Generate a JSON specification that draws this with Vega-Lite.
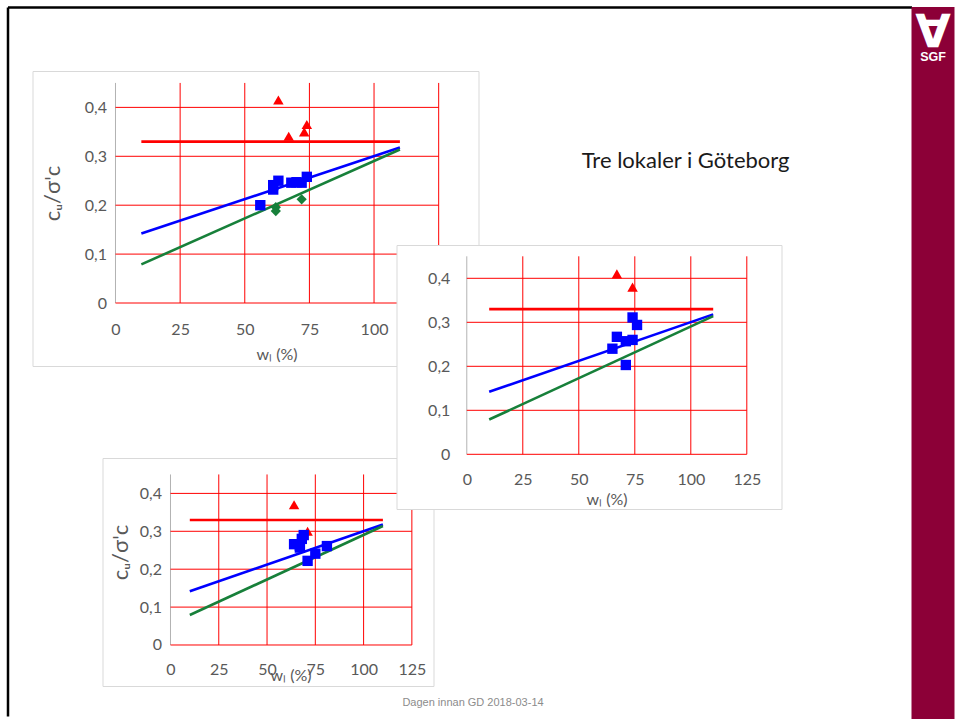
{
"$schema": "https://vega.github.io/schema/vega-lite/v6.json",
"background": "white",
"padding": {"left": 7.5, "top": 7, "right": 0, "bottom": 0},
"config": {"view": {"stroke": null}},
"title": {"text": "Dagen innan GD 2018-03-14", "orient": "bottom", "anchor": "middle", "offset": -22, "dx": -8, "font": "Liberation Sans", "fontSize": 11, "fontWeight": "normal", "color": "#8c8c8c"},
"datasets": {
 "gx": [{"v": 0}, {"v": 25}, {"v": 50}, {"v": 75}, {"v": 100}, {"v": 125}],
 "gy": [{"v": 0}, {"v": 0.1}, {"v": 0.2}, {"v": 0.3}, {"v": 0.4}],
 "lines": [{"s": "A", "x": 10, "y": 0.33}, {"s": "A", "x": 110, "y": 0.33}, {"s": "B", "x": 10, "y": 0.142}, {"s": "B", "x": 110, "y": 0.318}, {"s": "C", "x": 10, "y": 0.079}, {"s": "C", "x": 110, "y": 0.314}],
 "p1": [{"s": "A", "x": 63, "y": 0.415}, {"s": "A", "x": 67, "y": 0.341}, {"s": "A", "x": 73, "y": 0.35}, {"s": "A", "x": 74, "y": 0.365},
        {"s": "B", "x": 56, "y": 0.2}, {"s": "B", "x": 61, "y": 0.232}, {"s": "B", "x": 61, "y": 0.241}, {"s": "B", "x": 63, "y": 0.25}, {"s": "B", "x": 68, "y": 0.246}, {"s": "B", "x": 70, "y": 0.247}, {"s": "B", "x": 72, "y": 0.246}, {"s": "B", "x": 74, "y": 0.258},
        {"s": "C", "x": 62, "y": 0.196}, {"s": "C", "x": 62, "y": 0.188}, {"s": "C", "x": 72, "y": 0.212}],
 "p2": [{"s": "A", "x": 67, "y": 0.41}, {"s": "A", "x": 74, "y": 0.38},
        {"s": "B", "x": 65, "y": 0.24}, {"s": "B", "x": 67, "y": 0.267}, {"s": "B", "x": 71, "y": 0.257}, {"s": "B", "x": 74, "y": 0.26}, {"s": "B", "x": 74, "y": 0.311}, {"s": "B", "x": 76, "y": 0.294}, {"s": "B", "x": 71, "y": 0.203}],
 "p3": [{"s": "A", "x": 64, "y": 0.37}, {"s": "A", "x": 71, "y": 0.3},
        {"s": "B", "x": 64, "y": 0.266}, {"s": "B", "x": 67, "y": 0.262}, {"s": "B", "x": 69, "y": 0.29}, {"s": "B", "x": 68, "y": 0.28}, {"s": "B", "x": 71, "y": 0.222}, {"s": "B", "x": 75, "y": 0.241}, {"s": "B", "x": 81, "y": 0.261}, {"s": "B", "x": 67, "y": 0.257}]
},
"bounds": "flush",
"align": "none",
"spacing": 904,
"hconcat": [
 {
  "bounds": "flush", "align": "none",
  "spacing": 64,
  "vconcat": [
   {
    "bounds": "flush", "align": "none",
    "vconcat": [
     {
      "width": 904, "height": 709,
      "view": {"stroke": null},
      "title": {"text": "Tre lokaler i Göteborg", "orient": "top", "anchor": "end", "frame": "group", "offset": -166, "dx": -122, "font": "Lato", "fontSize": 22, "fontWeight": "normal", "color": "#1a1a1a"},
      "data": {"values": [{"a": 0.5}]},
      "mark": {"type": "point", "opacity": 0},
      "encoding": {
       "x": {"field": "a", "type": "quantitative", "scale": {"domain": [0, 1]}, "axis": {"orient": "top", "domain": true, "domainColor": "#000000", "domainWidth": 2.5, "labels": false, "ticks": false, "grid": false, "title": null}},
       "y": {"field": "a", "type": "quantitative", "scale": {"domain": [0, 1]}, "axis": {"orient": "left", "domain": true, "domainColor": "#000000", "domainWidth": 2.5, "labels": false, "ticks": false, "grid": false, "title": null}}
      }
     }
    ]
   },
   {
    "bounds": "flush", "align": "none",
    "spacing": 24,
    "hconcat": [
     {"width": 1, "height": 1, "view": {"stroke": null}, "data": {"values": []}, "mark": "point"},
     {
      "bounds": "flush", "align": "none",
      "spacing": 364,
      "hconcat": [
       {
        "bounds": "flush", "align": "none",
        "spacing": 92,
        "vconcat": [
         {
          "width": 446, "height": 295,
          "view": {"fill": "white", "stroke": "#d9d9d9", "strokeWidth": 1},
          "encoding": {
           "x": {"type": "quantitative", "scale": {"domain": [-32.1, 140.4], "nice": false, "zero": false},
                 "axis": {"orient": "bottom", "offset": -63, "values": [0, 25, 50, 75, 100, 125], "format": "d", "domain": false, "ticks": false, "grid": false, "labelPadding": 18, "labelFont": "Lato", "labelFontSize": 16, "labelColor": "#595959", "labelFlush": false, "labelOverlap": false, "labelBound": false,
                          "title": "wₗ (%)", "titleX": 244, "titleY": 56, "titleAlign": "center", "titleBaseline": "alphabetic", "titleAngle": 0, "titleFont": "Lato", "titleFontSize": 16, "titleFontWeight": "normal", "titleColor": "#595959"}},
           "y": {"type": "quantitative", "scale": {"domain": [-0.1288, 0.4744], "nice": false, "zero": false},
                 "axis": {"orient": "left", "offset": -83, "values": [0, 0.1, 0.2, 0.3, 0.4], "labelExpr": "datum.value == 0 ? '0' : replace(format(datum.value, '.1f'), '.', ',')", "domain": false, "ticks": false, "grid": false, "labelPadding": 9, "labelFont": "Lato", "labelFontSize": 16, "labelColor": "#595959", "labelFlush": false, "labelOverlap": false, "labelBound": false,
                          "title": "cᵤ/σ'c", "titleX": -56, "titleY": 122, "titleAlign": "center", "titleBaseline": "alphabetic", "titleAngle": -90, "titleFont": "Lato", "titleFontSize": 22, "titleFontWeight": "normal", "titleColor": "#595959"}}
          },
          "layer": [
           {"data": {"name": "gx"}, "mark": {"type": "rule", "strokeWidth": 1},
            "encoding": {"x": {"field": "v"}, "y": {"datum": 0}, "y2": {"datum": 0.45},
             "color": {"condition": {"test": "datum.v === 0", "value": "#b3b3b3"}, "value": "#ff0000"}}},
           {"data": {"name": "gy"}, "mark": {"type": "rule", "color": "#ff0000", "strokeWidth": 1},
            "encoding": {"y": {"field": "v"}, "x": {"datum": 0}, "x2": {"datum": 125}}},
           {"data": {"name": "lines"}, "mark": {"type": "line", "strokeWidth": 2.6},
            "encoding": {"x": {"field": "x"}, "y": {"field": "y"},
             "color": {"field": "s", "type": "nominal", "scale": {"domain": ["A", "B", "C"], "range": ["#ff0000", "#0000ff", "#17803a"]}, "legend": null}}},
           {"data": {"name": "p1"}, "mark": {"type": "point", "filled": true, "opacity": 1},
            "encoding": {"x": {"field": "x"}, "y": {"field": "y"},
             "color": {"field": "s", "type": "nominal", "scale": {"domain": ["A", "B", "C"], "range": ["#ff0000", "#0000ff", "#17803a"]}, "legend": null},
             "shape": {"field": "s", "type": "nominal", "scale": {"domain": ["A", "B", "C"], "range": ["triangle-up", "square", "diamond"]}, "legend": null},
             "size": {"field": "s", "type": "ordinal", "scale": {"domain": ["A", "B", "C"], "range": [110, 105, 60]}, "legend": null}}}
          ]
         },
         {
          "bounds": "flush", "align": "none",
          "spacing": 69,
          "hconcat": [
           {"width": 1, "height": 1, "view": {"stroke": null}, "data": {"values": []}, "mark": "point"},
           {
            "width": 331, "height": 228,
            "view": {"fill": "white", "stroke": "#d9d9d9", "strokeWidth": 1},
            "encoding": {
             "x": {"type": "quantitative", "scale": {"domain": [-35.21, 136.2], "nice": false, "zero": false},
                   "axis": {"orient": "bottom", "offset": -41, "values": [0, 25, 50, 75, 100, 125], "format": "d", "domain": false, "ticks": false, "grid": false, "labelPadding": 16, "labelFont": "Lato", "labelFontSize": 16, "labelColor": "#595959", "labelFlush": false, "labelOverlap": false, "labelBound": false,
                            "title": "wₗ (%)", "titleX": 188, "titleY": 35, "titleAlign": "center", "titleBaseline": "alphabetic", "titleAngle": 0, "titleFont": "Lato", "titleFontSize": 16, "titleFontWeight": "normal", "titleColor": "#595959"}},
             "y": {"type": "quantitative", "scale": {"domain": [-0.1082, 0.4934], "nice": false, "zero": false},
                   "axis": {"orient": "left", "offset": -68, "values": [0, 0.1, 0.2, 0.3, 0.4], "labelExpr": "datum.value == 0 ? '0' : replace(format(datum.value, '.1f'), '.', ',')", "domain": false, "ticks": false, "grid": false, "labelPadding": 9, "labelFont": "Lato", "labelFontSize": 16, "labelColor": "#595959", "labelFlush": false, "labelOverlap": false, "labelBound": false,
                            "title": "cᵤ/σ'c", "titleX": -43, "titleY": 94, "titleAlign": "center", "titleBaseline": "alphabetic", "titleAngle": -90, "titleFont": "Lato", "titleFontSize": 22, "titleFontWeight": "normal", "titleColor": "#595959"}}
            },
            "layer": [
             {"data": {"name": "gx"}, "mark": {"type": "rule", "strokeWidth": 1},
              "encoding": {"x": {"field": "v"}, "y": {"datum": 0}, "y2": {"datum": 0.45},
               "color": {"condition": {"test": "datum.v === 0", "value": "#b3b3b3"}, "value": "#ff0000"}}},
             {"data": {"name": "gy"}, "mark": {"type": "rule", "color": "#ff0000", "strokeWidth": 1},
              "encoding": {"y": {"field": "v"}, "x": {"datum": 0}, "x2": {"datum": 125}}},
             {"data": {"name": "lines"}, "mark": {"type": "line", "strokeWidth": 2.6},
              "encoding": {"x": {"field": "x"}, "y": {"field": "y"},
               "color": {"field": "s", "type": "nominal", "scale": {"domain": ["A", "B", "C"], "range": ["#ff0000", "#0000ff", "#17803a"]}, "legend": null}}},
             {"data": {"name": "p3"}, "mark": {"type": "point", "filled": true, "opacity": 1},
              "encoding": {"x": {"field": "x"}, "y": {"field": "y"},
               "color": {"field": "s", "type": "nominal", "scale": {"domain": ["A", "B", "C"], "range": ["#ff0000", "#0000ff", "#17803a"]}, "legend": null},
               "shape": {"field": "s", "type": "nominal", "scale": {"domain": ["A", "B", "C"], "range": ["triangle-up", "square", "diamond"]}, "legend": null},
               "size": {"field": "s", "type": "ordinal", "scale": {"domain": ["A", "B", "C"], "range": [100, 95, 60]}, "legend": null}}}
            ]
           }
          ]
         }
        ]
       },
       {
        "bounds": "flush", "align": "none",
        "spacing": 173,
        "vconcat": [
         {"width": 1, "height": 1, "view": {"stroke": null}, "data": {"values": []}, "mark": "point"},
         {
          "width": 385, "height": 264,
          "view": {"fill": "white", "stroke": "#d9d9d9", "strokeWidth": 1},
          "encoding": {
           "x": {"type": "quantitative", "scale": {"domain": [-31.38, 140.49], "nice": false, "zero": false},
                 "axis": {"orient": "bottom", "offset": -54.7, "values": [0, 25, 50, 75, 100, 125], "format": "d", "domain": false, "ticks": false, "grid": false, "labelPadding": 17, "labelFont": "Lato", "labelFontSize": 16, "labelColor": "#595959", "labelFlush": false, "labelOverlap": false, "labelBound": false,
                          "title": "wₗ (%)", "titleX": 210, "titleY": 50, "titleAlign": "center", "titleBaseline": "alphabetic", "titleAngle": 0, "titleFont": "Lato", "titleFontSize": 16, "titleFontWeight": "normal", "titleColor": "#595959"}},
           "y": {"type": "quantitative", "scale": {"domain": [-0.1243, 0.4757], "nice": false, "zero": false},
                 "axis": {"orient": "left", "offset": -70.3, "values": [0, 0.1, 0.2, 0.3, 0.4], "labelExpr": "datum.value == 0 ? '0' : replace(format(datum.value, '.1f'), '.', ',')", "domain": false, "ticks": false, "grid": false, "labelPadding": 17, "labelFont": "Lato", "labelFontSize": 16, "labelColor": "#595959", "labelFlush": false, "labelOverlap": false, "labelBound": false, "title": null}}
          },
          "layer": [
           {"data": {"name": "gx"}, "mark": {"type": "rule", "strokeWidth": 1},
            "encoding": {"x": {"field": "v"}, "y": {"datum": 0}, "y2": {"datum": 0.45},
             "color": {"condition": {"test": "datum.v === 0", "value": "#b3b3b3"}, "value": "#ff0000"}}},
           {"data": {"name": "gy"}, "mark": {"type": "rule", "color": "#ff0000", "strokeWidth": 1},
            "encoding": {"y": {"field": "v"}, "x": {"datum": 0}, "x2": {"datum": 125}}},
           {"data": {"name": "lines"}, "mark": {"type": "line", "strokeWidth": 2.6},
            "encoding": {"x": {"field": "x"}, "y": {"field": "y"},
             "color": {"field": "s", "type": "nominal", "scale": {"domain": ["A", "B", "C"], "range": ["#ff0000", "#0000ff", "#17803a"]}, "legend": null}}},
           {"data": {"name": "p2"}, "mark": {"type": "point", "filled": true, "opacity": 1},
            "encoding": {"x": {"field": "x"}, "y": {"field": "y"},
             "color": {"field": "s", "type": "nominal", "scale": {"domain": ["A", "B", "C"], "range": ["#ff0000", "#0000ff", "#17803a"]}, "legend": null},
             "shape": {"field": "s", "type": "nominal", "scale": {"domain": ["A", "B", "C"], "range": ["triangle-up", "square", "diamond"]}, "legend": null},
             "size": {"field": "s", "type": "ordinal", "scale": {"domain": ["A", "B", "C"], "range": [100, 100, 60]}, "legend": null}}}
          ]
         }
        ]
       }
      ]
     }
    ]
   }
  ]
 },
 {
  "width": 43, "height": 712,
  "view": {"fill": "#8c0037", "stroke": null},
  "title": {"text": "∀", "subtitle": "SGF", "orient": "top", "anchor": "middle", "frame": "group", "offset": -57, "font": "DejaVu Sans", "fontSize": 46, "fontWeight": "bold", "color": "white", "subtitleFont": "Liberation Sans", "subtitleFontSize": 12.5, "subtitleFontWeight": "bold", "subtitleColor": "white", "subtitlePadding": -6},
  "data": {"values": []},
  "mark": "point"
 }
]
}
